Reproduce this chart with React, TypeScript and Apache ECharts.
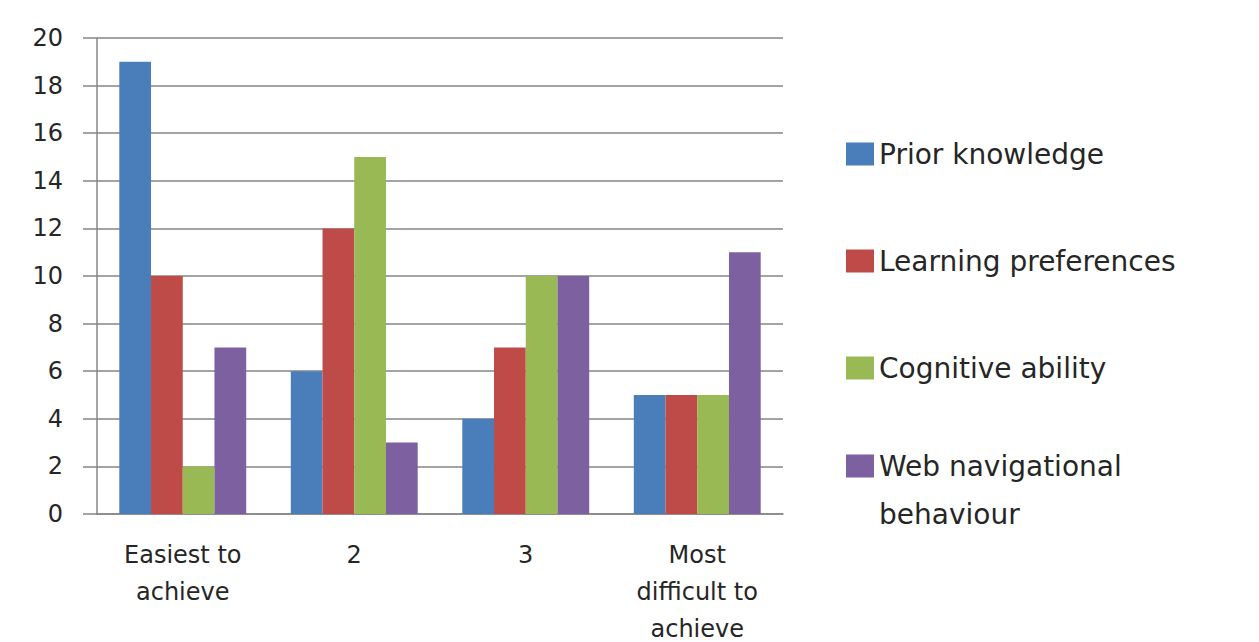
import React, { useEffect, useRef } from "react";
import * as echarts from "echarts";

const categories = ["Easiest to\nachieve", "2", "3", "Most\ndifficult to\nachieve"];
const seriesNames = ["Prior knowledge", "Learning preferences", "Cognitive ability", "Web navigational behaviour"];
const priorKnowledge = [19, 6, 4, 5];
const learningPreferences = [10, 12, 7, 5];
const cognitiveAbility = [2, 15, 10, 5];
const webNavigational = [7, 3, 10, 11];
const colors = ["#4A7EBB", "#BE4B48", "#98B954", "#7D60A0"];
const FONT = "DejaVu Sans";

export default function App() {
  const ref = useRef<HTMLDivElement>(null);
  useEffect(() => {
    const chart = echarts.init(ref.current!, null, { renderer: "svg" });
    const values = [priorKnowledge, learningPreferences, cognitiveAbility, webNavigational];
    const legendText = { fontFamily: FONT, fontSize: 28, color: "#262626", lineHeight: 30 };
    chart.setOption({
      animation: false,
      backgroundColor: "#ffffff",
      color: colors,
      grid: { left: 97, right: 476, top: 38, bottom: 128, outerBoundsMode: "none" },
      legend: [
        {
          orient: "vertical",
          left: 841,
          top: 134,
          itemWidth: 28,
          itemHeight: 23,
          itemGap: 77,
          icon: "rect",
          selectedMode: false,
          textStyle: legendText,
          data: [seriesNames[0], seriesNames[1], seriesNames[2]],
        },
        {
          orient: "vertical",
          left: 841,
          top: 389,
          itemWidth: 28,
          itemHeight: 23,
          icon: "rect",
          selectedMode: false,
          textStyle: { ...legendText, lineHeight: 48 },
          data: [seriesNames[3]],
          formatter: () => "\nWeb navigational\nbehaviour",
        },
      ],
      xAxis: {
        type: "category",
        data: categories,
        axisLine: { lineStyle: { color: "#868686", width: 1.5 } },
        axisTick: { length: 11, lineStyle: { color: "#868686", width: 1.5 } },
        axisLabel: { fontFamily: FONT, fontSize: 24, color: "#262626", lineHeight: 37, margin: 22 },
      },
      yAxis: {
        type: "value",
        min: 0,
        max: 20,
        interval: 2,
        axisLine: { show: true, lineStyle: { color: "#868686", width: 1.5 } },
        axisTick: { show: true, length: 14, lineStyle: { color: "#868686", width: 1.5 } },
        splitLine: { lineStyle: { color: "#868686", width: 1.5 } },
        axisLabel: { fontFamily: FONT, fontSize: 24, color: "#262626", margin: 34 },
      },
      series: seriesNames.map((name, i) => ({
        name,
        type: "bar",
        data: values[i],
        barGap: "0%",
        barCategoryGap: "26%",
        itemStyle: { color: colors[i] },
      })),
    });
    return () => chart.dispose();
  }, []);
  return <div ref={ref} style={{ position: "fixed", left: 0, top: 0, width: 1259, height: 642 }} />;
}
